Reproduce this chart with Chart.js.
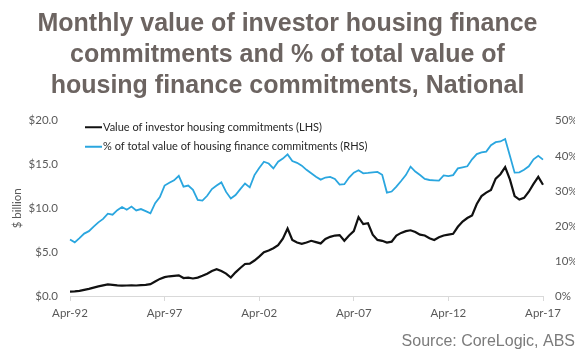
<!DOCTYPE html>
<html>
<head>
<meta charset="utf-8">
<script src="https://cdn.jsdelivr.net/npm/chart.js@4.4.1/dist/chart.umd.min.js"></script>
<style>
  body { margin: 0; background: #fff; }
  #wrap { width: 580px; height: 352px; position: relative; }
</style>
</head>
<body>
<div id="wrap"><canvas id="chart"></canvas></div>
<script>
// quarterly readings, Apr-92 .. Apr-17
const investorValue = [
  0.50, 0.52, 0.58, 0.70, 0.82, 0.96, 1.10, 1.22, 1.32, 1.28,
  1.22, 1.18, 1.20, 1.22, 1.20, 1.25, 1.28, 1.35, 1.65, 1.95,
  2.15, 2.25, 2.30, 2.35, 2.05, 2.10, 2.00, 2.10, 2.30, 2.55,
  2.85, 3.05, 2.85, 2.55, 2.10, 2.70, 3.20, 3.65, 3.70, 4.05,
  4.50, 5.00, 5.20, 5.45, 5.80, 6.55, 7.70, 6.40, 6.10, 5.95,
  6.10, 6.30, 6.15, 6.00, 6.50, 6.75, 6.90, 6.95, 6.30, 6.90,
  7.40, 9.00, 8.20, 8.30, 7.00, 6.40, 6.30, 6.10, 6.20, 6.90,
  7.20, 7.40, 7.50, 7.30, 7.00, 6.90, 6.60, 6.40, 6.70, 6.90,
  7.00, 7.10, 7.90, 8.50, 8.90, 9.20, 10.50, 11.40, 11.80, 12.10,
  13.40, 13.90, 14.70, 13.30, 11.40, 11.00, 11.20, 11.90, 12.80, 13.60,
  12.70
];

const investorShare = [
  16.1, 15.3, 16.5, 17.8, 18.5, 19.8, 21.0, 22.0, 23.5, 23.2,
  24.5, 25.4, 24.6, 25.5, 24.4, 24.8, 24.2, 23.6, 26.5, 28.2,
  31.5, 32.3, 33.0, 34.3, 31.2, 31.5, 30.3, 27.4, 27.2, 28.6,
  30.5, 31.5, 32.4, 29.7, 27.8, 28.8, 30.5, 32.1, 31.0, 34.5,
  36.5, 38.3, 37.8, 36.4, 38.3, 39.2, 40.4, 38.5, 38.0, 37.2,
  36.0, 35.0, 34.0, 33.2, 33.8, 34.0, 33.4, 31.8, 31.9, 33.8,
  35.2, 35.9, 35.0, 35.1, 35.3, 35.4, 34.6, 29.5, 29.8, 31.2,
  32.8, 34.5, 36.9, 35.5, 34.5, 33.4, 33.1, 33.0, 32.9, 34.4,
  34.2, 34.5, 36.4, 36.7, 37.0, 39.0, 40.5, 41.0, 41.2, 43.0,
  43.9, 44.1, 44.8, 40.0, 35.2, 35.3, 36.0, 37.0, 39.0, 40.0,
  38.9
];

const tickLabels = ['Apr-92', 'Apr-97', 'Apr-02', 'Apr-07', 'Apr-12', 'Apr-17'];

const monthNames = ['Jan', 'Apr', 'Jul', 'Oct'];

// build quarter labels Apr-92, Jul-92, ...
function makeQuarters(count){
    let labels = [];
    let year = 1992;
    let q = 1;
    for (let i = 0; i < count; i++){
        labels.push(monthNames[q] + '-' + String(year).slice(2));
        q++;
        if (q > 3){
            q = 0;
            year++;
        }
    }
    return labels;
}

const quarters = makeQuarters(investorValue.length);

const tickFont = { family: 'Lato', size: 11.5 };
const tickColor = '#595959';

// draws the two legend rows inside the plot, top left
const insideLegend = {
    id: 'insideLegend',
    afterDatasetsDraw(chart){
        const ctx = chart.ctx;
        const area = chart.chartArea;
        ctx.save();
        ctx.font = '11px Lato';
        ctx.textBaseline = 'middle';
        chart.data.datasets.forEach((ds, i) => {
            let y = area.top + 6.5 + i * 19.5;
            let x = area.left + 15;
            ctx.strokeStyle = ds.borderColor;
            ctx.lineWidth = 2;
            ctx.beginPath();
            ctx.moveTo(x, y);
            ctx.lineTo(x + 17, y);
            ctx.stroke();
            ctx.fillStyle = '#262626';
            ctx.fillText(ds.label, x + 18, y);
        });
        ctx.restore();
    }
};

const chart = new Chart(document.getElementById('chart'), {
    type: 'line',
    data: {
        labels: quarters,
        datasets: [
            {
                label: 'Value of investor housing commitments (LHS)',
                data: investorValue,
                borderColor: '#111111',
                borderWidth: 2.2,
                yAxisID: 'y',
                pointRadius: 0,
                tension: 0
            },
            {
                label: '% of total value of housing finance commitments (RHS)',
                data: investorShare,
                borderColor: '#2aa6df',
                borderWidth: 1.8,
                yAxisID: 'y1',
                pointRadius: 0,
                tension: 0
            }
        ]
    },
    options: {
        responsive: true,
        maintainAspectRatio: false,
        animation: false,
        layout: { padding: { left: 0, right: 5, top: 0, bottom: 0 } },
        plugins: {
            legend: { display: false },
            tooltip: { enabled: false },
            title: {
                display: true,
                text: ['Monthly value of investor housing finance',
                       'commitments and % of total value of',
                       'housing finance commitments, National'],
                color: '#6c6461',
                font: { family: 'Liberation Sans', size: 25, weight: 'bold', lineHeight: 1.25 },
                padding: { top: 8, bottom: 19 }
            },
            subtitle: {
                display: true,
                text: 'Source: CoreLogic, ABS',
                position: 'bottom',
                align: 'end',
                color: '#7b7b7b',
                font: { family: 'Liberation Sans', size: 16 },
                padding: { top: 7, bottom: 1 }
            }
        },
        scales: {
            x: {
                type: 'category',
                offset: false,
                grid: {
                    display: true,
                    drawOnChartArea: false,
                    drawTicks: true,
                    tickLength: 5,
                    color: '#d9d9d9'
                },
                border: { display: true, color: '#d9d9d9' },
                ticks: {
                    autoSkip: false,
                    maxRotation: 0,
                    padding: 5,
                    font: tickFont,
                    color: tickColor,
                    callback: function(value, index){
                        let label = this.getLabelForValue(value);
                        return tickLabels.includes(label) && index % 20 === 0 ? label : null;
                    }
                }
            },
            y: {
                position: 'left',
                min: 0,
                max: 20,
                afterFit: (scale) => { scale.width = 70; },
                grid: { display: false, drawTicks: false },
                border: { display: false },
                ticks: {
                    stepSize: 5,
                    padding: 12,
                    font: tickFont,
                    color: tickColor,
                    callback: (v) => '$' + v.toFixed(1)
                },
                title: {
                    display: true,
                    text: '$ billion',
                    font: tickFont,
                    color: tickColor,
                    padding: 10
                }
            },
            y1: {
                position: 'right',
                min: 0,
                max: 50,
                afterFit: (scale) => { scale.width = 32; },
                grid: { display: false, drawTicks: false },
                border: { display: false },
                ticks: {
                    stepSize: 10,
                    padding: 12,
                    font: tickFont,
                    color: tickColor,
                    callback: (v) => v + '%'
                }
            }
        }
    },
    plugins: [insideLegend]
});
</script>
</body>
</html>
